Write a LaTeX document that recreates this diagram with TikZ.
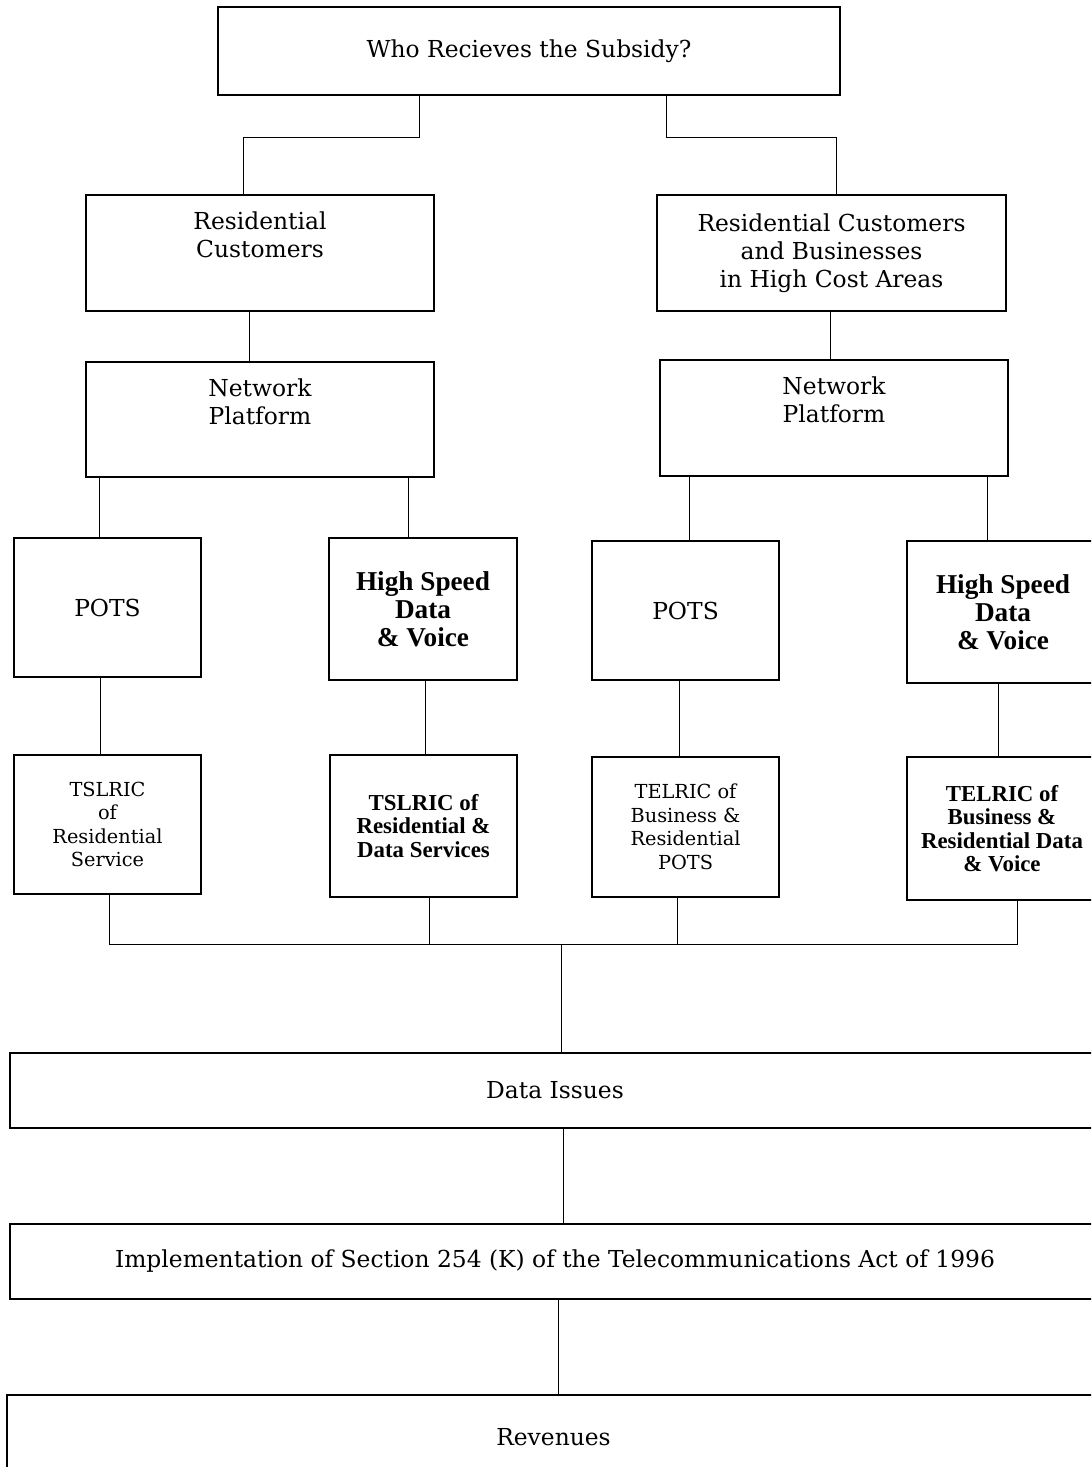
\documentclass[tikz,border=0pt]{standalone}
\usepackage{fontspec}
\setmainfont{DejaVu Serif}
\newfontfamily\boldserif{Liberation Serif}
\begin{document}
\begin{tikzpicture}[
  every node/.style={font=\fontsize{13.3}{16}\selectfont, align=center},
  box/.style={draw, rectangle, inner sep=0pt, line width=0.6pt},
  dims/.style 2 args={minimum width=#1cm, minimum height=#2cm},
  small/.style={box, font=\fontsize{11}{13.4}\selectfont},
  heavy/.style={box, font=\fontsize{15.5}{16}\boldserif\bfseries},
  smallheavy/.style={box, font=\fontsize{13}{13.4}\boldserif\bfseries}
]
\path[use as bounding box, clip] (0,0) rectangle (21.82,-29.34);

\node[box, dims={12.44}{1.76}] (who) at (10.58,-1.02) {Who Recieves the Subsidy?};

\node[box, dims={6.96}{2.32}] (resc) at (5.20,-5.06) {Residential\\Customers\\ \strut};
\node[box, dims={6.98}{2.32}] (resb) at (16.63,-5.06) {Residential Customers\\and Businesses\\in High Cost Areas};

\node[box, dims={6.96}{2.30}] (netl) at (5.20,-8.39) {Network\\Platform\\ \strut};
\node[box, dims={6.96}{2.32}] (netr) at (16.68,-8.36) {Network\\Platform\\ \strut};

\node[box, dims={3.74}{2.78}] (potsl) at (2.15,-12.15) {POTS};
\node[heavy, dims={3.76}{2.84}] (hsdl) at (8.46,-12.18) {High Speed\\Data\\ \& Voice};
\node[box, dims={3.74}{2.78}] (potsr) at (13.71,-12.21) {POTS};
\node[heavy, dims={3.84}{2.84}] (hsdr) at (20.06,-12.24) {High Speed\\Data\\ \& Voice};

\node[small, dims={3.74}{2.78}] (tsll) at (2.15,-16.49) {TSLRIC\\of\\Residential\\Service};
\node[smallheavy, dims={3.74}{2.84}] (tslm) at (8.47,-16.52) {TSLRIC of\\Residential \&\\Data Services};
\node[small, dims={3.74}{2.80}] (telr) at (13.71,-16.54) {TELRIC of\\Business \&\\Residential\\POTS};
\node[smallheavy, dims={3.80}{2.86}] (telrr) at (20.04,-16.57) {TELRIC of\\Business \&\\Residential Data\\\& Voice};

\coordinate (bus) at (11.22,-18.88);

\node[box, dims={21.80}{1.50}] (data) at (11.10,-21.81) {Data Issues};
\node[box, dims={21.80}{1.50}] (impl) at (11.10,-25.23) {Implementation of Section 254 (K) of the Telecommunications Act of 1996};
\node[box, dims={21.86}{1.70}] (rev) at (11.07,-28.75) {Revenues};

\draw ([xshift=-2.2cm]who.south) -- ++(0,-0.84) -| ([xshift=-0.34cm]resc.north);
\draw ([xshift=2.74cm]who.south) -- ++(0,-0.84) -| ([xshift=0.09cm]resb.north);
\draw ([xshift=-0.22cm]resc.south) |- (netl.north);
\draw ([xshift=-0.03cm]resb.south) |- (netr.north);
\draw ([xshift=-3.22cm]netl.south) |- (potsl.north);
\draw ([xshift=2.96cm]netl.south) |- (hsdl.north);
\draw ([xshift=-2.90cm]netr.south) |- (potsr.north);
\draw ([xshift=3.06cm]netr.south) |- (hsdr.north);
\draw ([xshift=-0.15cm]potsl.south) |- (tsll.north);
\draw ([xshift=0.04cm]hsdl.south) |- (tslm.north);
\draw ([xshift=-0.13cm]potsr.south) |- (telr.north);
\draw ([xshift=-0.10cm]hsdr.south) |- (telrr.north);
\draw ([xshift=0.03cm]tsll.south) |- (bus);
\draw ([xshift=0.11cm]tslm.south) |- (bus);
\draw ([xshift=-0.17cm]telr.south) |- (bus);
\draw ([xshift=0.30cm]telrr.south) |- (bus);
\draw (bus) -- (bus |- data.north);
\draw ([xshift=0.16cm]data.south) |- (impl.north);
\draw ([xshift=0.06cm]impl.south) |- (rev.north);
\end{tikzpicture}
\end{document}
